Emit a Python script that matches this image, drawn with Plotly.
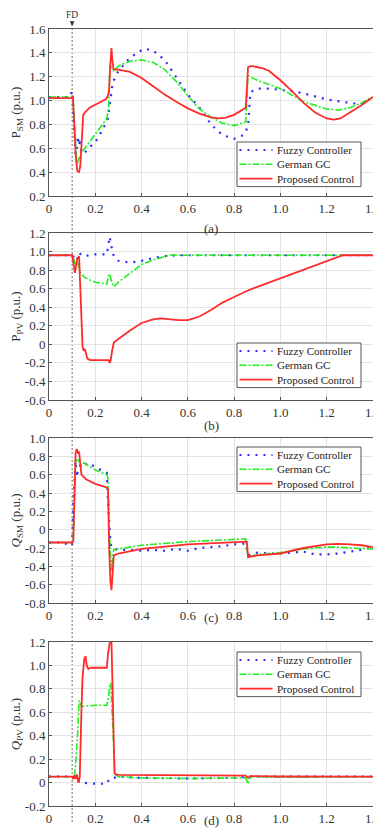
import plotly.graph_objects as go

# ---------------- data ----------------
# Panel (a): P_SM
a_fuzzy_t = [0, 0.09, 0.1, 0.105, 0.115, 0.12, 0.125, 0.13, 0.135, 0.14, 0.15, 0.17, 0.2, 0.23, 0.255, 0.265, 0.275, 0.3, 0.35, 0.41, 0.45, 0.5, 0.55, 0.6, 0.65, 0.7, 0.75, 0.8, 0.84, 0.86, 0.87, 0.9, 0.95, 1.0, 1.05, 1.1, 1.2, 1.3, 1.35, 1.4]
a_fuzzy_v = [1.03, 1.03, 1.08, 0.9, 0.55, 0.6, 0.7, 0.62, 0.68, 0.58, 0.55, 0.6, 0.65, 0.75, 0.85, 1.0, 1.15, 1.25, 1.36, 1.435, 1.42, 1.34, 1.2, 1.05, 0.94, 0.80, 0.71, 0.68, 0.71, 0.78, 1.07, 1.1, 1.1, 1.09, 1.08, 1.06, 1.01, 0.98, 0.97, 1.03]
a_german_t = [0, 0.1, 0.105, 0.12, 0.14, 0.17, 0.2, 0.23, 0.25, 0.258, 0.263, 0.27, 0.28, 0.3, 0.35, 0.4, 0.45, 0.5, 0.55, 0.6, 0.65, 0.7, 0.75, 0.8, 0.85, 0.855, 0.86, 0.9, 1.0, 1.1, 1.2, 1.25, 1.3, 1.35, 1.4]
a_german_v = [1.03, 1.03, 1.0, 0.47, 0.56, 0.64, 0.72, 0.8, 0.85, 0.95, 1.3, 1.27, 1.25, 1.29, 1.33, 1.34, 1.32, 1.26, 1.16, 1.04, 0.93, 0.86, 0.81, 0.79, 0.82, 1.0, 1.21, 1.17, 1.1, 0.99, 0.93, 0.92, 0.94, 0.98, 1.03]
a_prop_t = [0, 0.1, 0.103, 0.106, 0.115, 0.122, 0.13, 0.135, 0.142, 0.148, 0.155, 0.165, 0.175, 0.185, 0.195, 0.205, 0.215, 0.225, 0.235, 0.245, 0.255, 0.26, 0.265, 0.27, 0.273, 0.278, 0.285, 0.3, 0.35, 0.4, 0.45, 0.5, 0.55, 0.6, 0.65, 0.7, 0.73, 0.76, 0.8, 0.85, 0.855, 0.86, 0.875, 0.9, 0.925, 0.95, 1.0, 1.05, 1.1, 1.15, 1.2, 1.23, 1.26, 1.3, 1.35, 1.4]
a_prop_v = [1.02, 1.02, 1.04, 0.9, 0.55, 0.41, 0.40, 0.45, 0.7, 0.88, 0.9, 0.92, 0.94, 0.95, 0.96, 0.97, 0.98, 0.99, 1.0, 1.01, 1.04, 1.1, 1.3, 1.44, 1.35, 1.27, 1.26, 1.26, 1.24, 1.19, 1.12, 1.05, 0.99, 0.935, 0.89, 0.86, 0.85, 0.855, 0.88, 0.94, 1.1, 1.28, 1.29, 1.28, 1.27, 1.25, 1.17, 1.08, 0.98, 0.9, 0.85, 0.84, 0.85, 0.9, 0.96, 1.03]

# Panel (b): P_PV
b_fuzzy_t = [0, 0.1, 0.11, 0.12, 0.13, 0.14, 0.15, 0.2, 0.25, 0.255, 0.262, 0.268, 0.275, 0.285, 0.3, 0.35, 0.4, 0.45, 0.5, 0.55, 0.6, 1.4]
b_fuzzy_v = [0.96, 0.96, 0.93, 0.9, 0.99, 0.96, 0.95, 0.97, 0.97, 1.05, 1.16, 1.08, 0.98, 0.93, 0.9, 0.88, 0.9, 0.93, 0.95, 0.96, 0.96, 0.96]
b_german_t = [0, 0.1, 0.11, 0.115, 0.125, 0.135, 0.15, 0.17, 0.2, 0.22, 0.25, 0.255, 0.262, 0.268, 0.275, 0.28, 0.3, 0.35, 0.4, 0.45, 0.52, 0.6, 1.4]
b_german_v = [0.96, 0.96, 0.9, 0.84, 0.88, 0.78, 0.73, 0.7, 0.67, 0.66, 0.65, 0.72, 0.76, 0.7, 0.64, 0.62, 0.67, 0.77, 0.86, 0.91, 0.96, 0.96, 0.96]
b_prop_t = [0, 0.1, 0.105, 0.112, 0.117, 0.122, 0.13, 0.135, 0.14, 0.145, 0.15, 0.155, 0.16, 0.165, 0.17, 0.18, 0.2, 0.25, 0.258, 0.262, 0.266, 0.272, 0.28, 0.285, 0.3, 0.35, 0.4, 0.45, 0.48, 0.52, 0.56, 0.6, 0.65, 0.7, 0.75, 0.8, 0.85, 0.9, 1.0, 1.1, 1.2, 1.27, 1.4]
b_prop_v = [0.96, 0.96, 0.88, 0.77, 0.84, 0.92, 0.95, 0.6, 0.25, -0.03, -0.07, -0.05, -0.1, -0.15, -0.16, -0.17, -0.17, -0.17, -0.17, -0.2, -0.18, -0.08, 0.02, 0.03, 0.06, 0.15, 0.23, 0.27, 0.28, 0.27, 0.26, 0.26, 0.3, 0.37, 0.45, 0.51, 0.57, 0.62, 0.71, 0.8, 0.89, 0.96, 0.96]

# Panel (c): Q_SM
c_fuzzy_t = [0, 0.05, 0.1, 0.105, 0.115, 0.12, 0.125, 0.13, 0.14, 0.15, 0.17, 0.2, 0.23, 0.25, 0.255, 0.26, 0.265, 0.27, 0.28, 0.3, 0.35, 0.4, 0.45, 0.5, 0.55, 0.6, 0.65, 0.7, 0.75, 0.8, 0.84, 0.85, 0.86, 0.9, 0.95, 1.0, 1.05, 1.1, 1.15, 1.2, 1.25, 1.3, 1.35, 1.4]
c_fuzzy_v = [-0.14, -0.14, -0.17, 0.3, 0.75, 0.57, 0.66, 0.68, 0.72, 0.7, 0.73, 0.68, 0.64, 0.62, 0.3, 0.05, -0.12, -0.2, -0.21, -0.22, -0.22, -0.23, -0.22, -0.23, -0.21, -0.23, -0.2, -0.19, -0.18, -0.16, -0.15, -0.15, -0.28, -0.25, -0.26, -0.26, -0.25, -0.24, -0.27, -0.27, -0.26, -0.24, -0.22, -0.19]
c_german_t = [0, 0.1, 0.105, 0.115, 0.125, 0.14, 0.15, 0.2, 0.25, 0.255, 0.26, 0.265, 0.27, 0.275, 0.28, 0.3, 0.4, 0.6, 0.85, 0.855, 0.86, 0.9, 1.0, 1.1, 1.2, 1.25, 1.3, 1.4]
c_german_v = [-0.14, -0.14, -0.12, 0.76, 0.76, 0.7, 0.73, 0.65, 0.6, 0.56, 0.0, -0.3, -0.45, -0.3, -0.22, -0.21, -0.17, -0.13, -0.1, -0.2, -0.3, -0.27, -0.25, -0.21, -0.19, -0.19, -0.2, -0.21]
c_prop_t = [0, 0.1, 0.105, 0.115, 0.12, 0.125, 0.13, 0.135, 0.14, 0.16, 0.2, 0.25, 0.255, 0.26, 0.265, 0.27, 0.275, 0.28, 0.3, 0.4, 0.6, 0.85, 0.855, 0.86, 0.9, 1.0, 1.1, 1.2, 1.25, 1.3, 1.35, 1.4]
c_prop_v = [-0.14, -0.14, -0.12, 0.84, 0.88, 0.84, 0.85, 0.75, 0.6, 0.55, 0.5, 0.46, 0.44, -0.2, -0.55, -0.66, -0.4, -0.28, -0.26, -0.21, -0.16, -0.13, -0.13, -0.3, -0.28, -0.26, -0.2, -0.16, -0.155, -0.16, -0.17, -0.19]

# Panel (d): Q_PV
d_fuzzy_t = [0, 0.1, 0.12, 0.13, 0.14, 0.2, 0.25, 0.26, 0.27, 0.28, 0.3, 0.4, 0.6, 0.8, 0.86, 1.0, 1.4]
d_fuzzy_v = [0.05, 0.05, 0.05, 0.0, 0.0, -0.01, -0.01, 0.03, 0.035, 0.04, 0.05, 0.04, 0.035, 0.04, 0.05, 0.05, 0.05]
d_german_t = [0, 0.1, 0.11, 0.115, 0.125, 0.13, 0.135, 0.14, 0.2, 0.25, 0.255, 0.262, 0.267, 0.275, 0.285, 0.3, 0.4, 0.6, 0.85, 0.86, 0.87, 1.0, 1.4]
d_german_v = [0.05, 0.05, 0.05, 0.15, 0.45, 0.7, 0.68, 0.65, 0.66, 0.66, 0.7, 0.82, 0.85, 0.5, 0.07, 0.05, 0.04, 0.035, 0.04, -0.01, 0.05, 0.045, 0.05]
d_prop_t = [0, 0.1, 0.105, 0.11, 0.115, 0.12, 0.128, 0.133, 0.14, 0.145, 0.152, 0.158, 0.163, 0.17, 0.18, 0.2, 0.25, 0.255, 0.262, 0.27, 0.278, 0.283, 0.29, 0.3, 0.5, 0.85, 0.86, 0.87, 1.0, 1.4]
d_prop_v = [0.05, 0.05, 0.03, 0.06, 0.03, 0.07, 0.0, 0.05, 0.6, 0.9, 1.05, 1.08, 1.0, 0.97, 0.98, 0.98, 0.98, 1.1, 1.19, 1.2, 0.6, 0.08, 0.07, 0.065, 0.063, 0.06, 0.04, 0.055, 0.052, 0.05]

series_names = ["Fuzzy Controller", "German GC", "Proposed Control"]

x_ticks = [0, 0.2, 0.4, 0.6, 0.8, 1.0, 1.2, 1.4]
x_ticktext = ["0", "0.2", "0.4", "0.6", "0.8", "1.0", "1.2", "1.4"]
a_ticks = [0.2, 0.4, 0.6, 0.8, 1.0, 1.2, 1.4, 1.6]
a_ticktext = ["0.2", "0.4", "0.6", "0.8", "1.0", "1.2", "1.4", "1.6"]
b_ticks = [-0.6, -0.4, -0.2, 0, 0.2, 0.4, 0.6, 0.8, 1.0, 1.2]
b_ticktext = ["-0.6", "-0.4", "-0.2", "0", "0.2", "0.4", "0.6", "0.8", "1.0", "1.2"]
c_ticks = [-0.8, -0.6, -0.4, -0.2, 0, 0.2, 0.4, 0.6, 0.8, 1.0]
c_ticktext = ["-0.8", "-0.6", "-0.4", "-0.2", "0", "0.2", "0.4", "0.6", "0.8", "1.0"]
d_ticks = [-0.2, 0, 0.2, 0.4, 0.6, 0.8, 1.0, 1.2]
d_ticktext = ["-0.2", "0", "0.2", "0.4", "0.6", "0.8", "1.0", "1.2"]

y_titles = ["P<sub>SM</sub> (p.u.)", "P<sub>PV</sub> (p.u.)",
            "<i>Q</i><sub>SM</sub> (p.u.)", "<i>Q</i><sub>PV</sub> (p.u.)"]
captions = ["(a)", "(b)", "(c)", "(d)"]

# ---------------- layout ----------------
OFF = 8                       # page body margin of the html file
W, H = 381 - OFF, 840 - OFF   # figure size so that page fits the window
FONT = "Liberation Serif"


def px(x):
    return (x - OFF) / W


def py(y):
    return 1 - (y - OFF) / H


X_L, X_R = 49, 373
panels = [  # top px, bottom px, caption px, legend top px (window pixels)
    (29, 196, 219, 142),
    (233, 400, 425, 343),
    (438, 603, 627, 447),
    (642, 806, 830, 652),
]
yranges = [[0.2, 1.6], [-0.6, 1.2], [-0.8, 1.0], [-0.2, 1.2]]
yticks = [(a_ticks, a_ticktext), (b_ticks, b_ticktext), (c_ticks, c_ticktext), (d_ticks, d_ticktext)]
data = [
    [(a_fuzzy_t, a_fuzzy_v), (a_german_t, a_german_v), (a_prop_t, a_prop_v)],
    [(b_fuzzy_t, b_fuzzy_v), (b_german_t, b_german_v), (b_prop_t, b_prop_v)],
    [(c_fuzzy_t, c_fuzzy_v), (c_german_t, c_german_v), (c_prop_t, c_prop_v)],
    [(d_fuzzy_t, d_fuzzy_v), (d_german_t, d_german_v), (d_prop_t, d_prop_v)],
]
styles = [
    dict(color="#2b2bff", width=2.2, dash="2px,6px"),
    dict(color="#22ee22", width=1.6, dash="7px,2px,2px,2px"),
    dict(color="#ff2a2a", width=1.8, dash="solid"),
]

LEG_FS = 11
LEG_STEP = 1.3 * LEG_FS
LEG_H = 2 * LEG_STEP + 16

fig = go.Figure()
annotations, shapes = [], []
layout = dict(
    width=W, height=H,
    margin=dict(l=0, r=0, t=0, b=0),
    paper_bgcolor="white", plot_bgcolor="white",
    font=dict(family=FONT, size=13, color="#333"),
    showlegend=False,
)

for i in range(4):
    sfx = "" if i == 0 else str(i + 1)
    top, bot, cap, legtop = panels[i]
    for j in range(3):
        t, v = data[i][j]
        fig.add_trace(go.Scatter(
            x=t, y=v, mode="lines", name=series_names[j],
            line=styles[j], xaxis="x" + sfx, yaxis="y" + sfx,
        ))
    common = dict(
        showgrid=True, gridcolor="#e3e3e3", gridwidth=1,
        showline=True, linecolor="#555", linewidth=1, mirror=True,
        ticks="inside", ticklen=3, tickcolor="#555", zeroline=False,
        tickfont=dict(family=FONT, size=13, color="#333"), automargin=False,
        ticklabeloverflow="allow",
    )
    layout["xaxis" + sfx] = dict(
        domain=[px(X_L), px(X_R)], anchor="y" + sfx, range=[0, 1.4],
        tickvals=x_ticks, ticktext=x_ticktext, **common,
    )
    layout["yaxis" + sfx] = dict(
        domain=[py(bot), py(top)], anchor="x" + sfx, range=yranges[i],
        tickvals=yticks[i][0], ticktext=yticks[i][1],
        title=dict(text=y_titles[i], font=dict(family=FONT, size=13, color="#333"), standoff=6),
        **common,
    )
    annotations.append(dict(
        text=captions[i], x=px((X_L + X_R) / 2), y=py(cap), xref="paper", yref="paper",
        showarrow=False, font=dict(family=FONT, size=13, color="#333"),
    ))
    # legend box (drawn in paper coordinates)
    shapes.append(dict(
        type="rect", xref="paper", yref="paper", x0=px(237), x1=px(361),
        y0=py(legtop + LEG_H), y1=py(legtop),
        line=dict(color="#555", width=1), fillcolor="white", layer="above",
    ))
    mid = legtop + LEG_H / 2
    for j in range(3):
        ry = mid + (j - 1) * LEG_STEP
        st = styles[j]
        shapes.append(dict(
            type="line", xref="paper", yref="paper", x0=px(239.5), x1=px(272.5),
            y0=py(ry), y1=py(ry), layer="above",
            line=dict(color=st["color"], width=st["width"], dash=st["dash"]),
        ))
    annotations.append(dict(
        text="<br>".join(series_names), x=px(275), y=py(mid), xref="paper", yref="paper",
        xanchor="left", yanchor="middle", align="left", showarrow=False,
        font=dict(family=FONT, size=LEG_FS, color="#222"),
    ))

shapes.append(dict(
    type="line", xref="x", yref="paper", x0=0.1, x1=0.1, y0=py(822), y1=py(24),
    line=dict(color="#444", width=0.8, dash="2px,2px"), layer="below",
))
annotations.append(dict(
    text="FD", x=0.1, y=py(26), xref="x", yref="paper",
    showarrow=True, ax=0, ay=-11, arrowhead=2, arrowsize=1.2, arrowwidth=0.8,
    arrowcolor="#333", font=dict(family=FONT, size=9.5, color="#333"),
))

layout["annotations"] = annotations
layout["shapes"] = shapes
fig.update_layout(**layout)
fig.write_html("out.html")
